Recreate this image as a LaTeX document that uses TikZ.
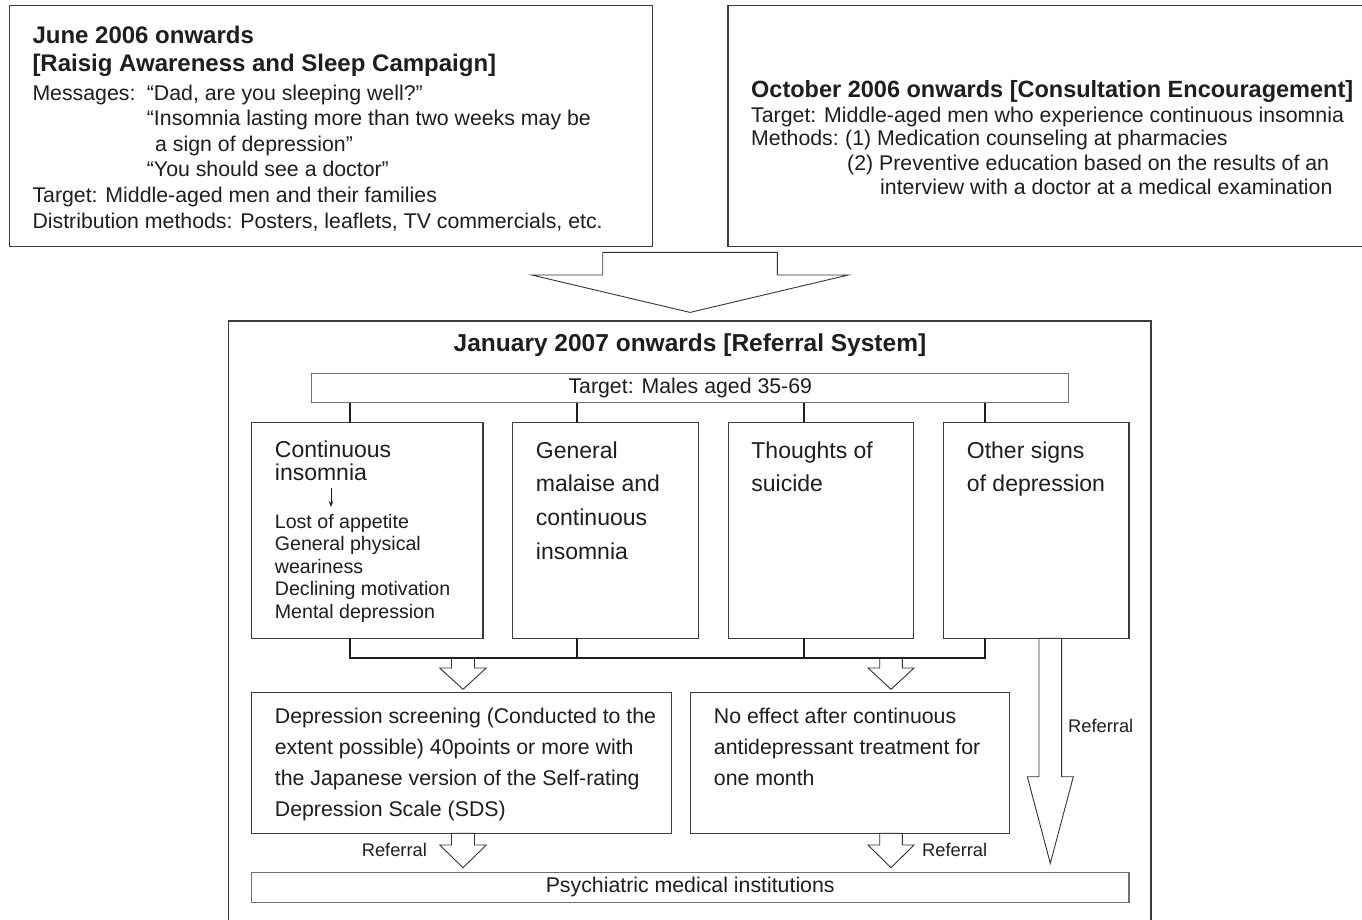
\documentclass[tikz,border=0pt]{standalone}
\usepackage{fontspec}
\setmainfont{Liberation Sans}
\usetikzlibrary{arrows.meta}
\definecolor{ink}{HTML}{1E1E1E}
\definecolor{edge}{HTML}{3C3C3C}
\definecolor{edgel}{HTML}{707070}
\newcommand\hollowarr[6]{% centre x, top, shoulder, tip, stem half width, head half width
  \draw[hollow] (#1-#5,#2) -- (#1+#5,#2) -- (#1+#5,#3) -- (#1+#6,#3) -- (#1,#4) -- (#1-#6,#3) -- (#1-#5,#3) -- cycle;}
\begin{document}
\begin{tikzpicture}[x=1pt,y=-1pt,
  box/.style={draw=edge, line width=1.2pt, inner sep=0pt, outer sep=0pt, anchor=north west},
  lbox/.style={draw=edgel, line width=1.2pt, inner sep=0pt, outer sep=0pt, anchor=north west},
  reg/.style={font=\fontsize{21.3}{25}\selectfont, text=ink, inner sep=0pt, anchor=base west},
  smt/.style={font=\fontsize{19.6}{22}\selectfont, text=ink, inner sep=0pt, anchor=base west},
  colt/.style={font=\fontsize{23}{26}\selectfont, text=ink, inner sep=0pt, anchor=base west},
  boldt/.style={font=\fontsize{24}{28}\selectfont\bfseries, text=ink, inner sep=0pt, anchor=base west},
  refl/.style={font=\fontsize{18.3}{21}\selectfont, text=ink, inner sep=0pt, anchor=base west},
  conn/.style={draw=black!88, line width=2pt},
  hollow/.style={draw=black!80, line width=0.9pt, fill=white, line join=miter}]
\useasboundingbox (0,0) rectangle (1362,919);
\fill[white] (0,0) rectangle (1362,919);
\clip (0,0) rectangle (1362,919);

% hollow arrows
\hollowarr{690}{252.3}{275}{312.4}{87.3}{158.3}
\hollowarr{463}{657.5}{668}{689.3}{11.5}{23.3}
\hollowarr{891}{657.5}{668}{689.3}{11.3}{23}
\hollowarr{463}{833.3}{845}{867.7}{11.5}{23.3}
\hollowarr{891}{833.3}{845}{867.7}{11.3}{23}
\hollowarr{1050.3}{638.3}{776.7}{863.3}{11.3}{23}

% top boxes
\node[box, minimum width=643.1pt, minimum height=241pt] (boxA) at (9.5,5.7) {};
\node[box, minimum width=660pt, minimum height=241pt] (boxB) at (728,5.7) {};

\node[boldt] (a1) at (32.3,43.3) {June 2006 onwards};
\node[boldt] (a2) at (32.3,71) {[Raisig Awareness and Sleep Campaign]};
\node[reg] (a3) at (32.3,100) {Messages:};
\node[reg] (a4) at (146.7,100) {“Dad, are you sleeping well?”};
\node[reg] (a5) at (146.7,125.6) {“Insomnia lasting more than two weeks may be};
\node[reg] (a6) at (155,151.2) {a sign of depression”};
\node[reg] (a7) at (146.7,176.8) {“You should see a doctor”};
\node[reg] (a8) at (32.3,202.4) {Target: Middle-aged men and their families};
\node[reg] (a9) at (32.3,228) {Distribution methods: Posters, leaflets, TV commercials, etc.};

\node[boldt, font=\fontsize{23.5}{28}\selectfont\bfseries] (b1) at (751,97) {October 2006 onwards [Consultation Encouragement]};
\node[reg] (b2) at (751,122) {Target: Middle-aged men who experience continuous insomnia};
\node[reg] (b3) at (751,145.5) {Methods:};
\node[reg] (b4) at (845,145.5) {(1) Medication counseling at pharmacies};
\node[reg] (b5) at (847,170) {(2) Preventive education based on the results of an};
\node[reg] (b6) at (880,194.5) {interview with a doctor at a medical examination};

% big box
\node[box, minimum width=922.6pt, minimum height=640pt] (big) at (228.4,321) {};
\node[boldt, anchor=base, font=\fontsize{24.5}{28}\selectfont\bfseries] (ttl) at (690,351.7) {January 2007 onwards [Referral System]};

\node[lbox, minimum width=757pt, minimum height=29.4pt, font=\fontsize{21.3}{25}\selectfont, text=ink] (target) at (311.8,373.3) {Target: Males aged 35-69};

\node[box, minimum width=231.5pt, minimum height=215.6pt] (c1) at (251.4,422.7) {};
\node[box, minimum width=185.6pt, minimum height=215.6pt] (c2) at (512.8,422.7) {};
\node[box, minimum width=185.4pt, minimum height=215.6pt] (c3) at (728.2,422.7) {};
\node[box, minimum width=185.6pt, minimum height=215.6pt] (c4) at (943.4,422.7) {};

\coordinate (k1) at (350.1,0);
\coordinate (k2) at (577,0);
\coordinate (k3) at (804.4,0);
\coordinate (k4) at (985.3,0);
\coordinate (hl) at (0,657.5);

\draw[conn] (target.south -| k1) -- (c1.north -| k1);
\draw[conn] (target.south -| k2) -- (c2.north -| k2);
\draw[conn] (target.south -| k3) -- (c3.north -| k3);
\draw[conn] (target.south -| k4) -- (c4.north -| k4);
\draw[conn, line join=miter] (c1.south -| k1) -- (hl -| k1) -- (hl -| k4) -- (c4.south -| k4);
\draw[conn] (c2.south -| k2) -- (hl -| k2);
\draw[conn] (c3.south -| k3) -- (hl -| k3);

% column texts
\node[colt] (t1a) at (274.7,457) {Continuous};
\node[colt] (t1b) at (274.7,480) {insomnia};
\coordinate (ar1) at (331,488);
\coordinate (ar2) at (331,507);
\draw[line width=1pt, ink, -{Stealth[length=6pt,width=4.5pt]}] (ar1) -- (ar2);
\node[smt] (t1c) at (274.7,528.3) {Lost of appetite};
\node[smt] (t1d) at (274.7,550.8) {General physical};
\node[smt] (t1e) at (274.7,573.3) {weariness};
\node[smt] (t1f) at (274.7,595.8) {Declining motivation};
\node[smt] (t1g) at (274.7,618.3) {Mental depression};

\node[colt] (t2a) at (535.7,458.3) {General};
\node[colt] (t2b) at (535.7,491.7) {malaise and};
\node[colt] (t2c) at (535.7,525.7) {continuous};
\node[colt] (t2d) at (535.7,559) {insomnia};

\node[colt] (t3a) at (751.2,458.3) {Thoughts of};
\node[colt] (t3b) at (751.2,491.7) {suicide};

\node[colt] (t4a) at (966.7,458.3) {Other signs};
\node[colt] (t4b) at (966.7,491.7) {of depression};

% second row
\node[box, minimum width=420.2pt, minimum height=140.6pt] (scr) at (251.4,692.7) {};
\node[box, minimum width=319pt, minimum height=140.8pt] (noeff) at (690.7,692.5) {};

\node[reg] (s1) at (274.7,723.3) {Depression screening (Conducted to the};
\node[reg] (s2) at (274.7,754.3) {extent possible) 40points or more with};
\node[reg] (s3) at (274.7,785.3) {the Japanese version of the Self-rating};
\node[reg] (s4) at (274.7,816.3) {Depression Scale (SDS)};

\node[reg] (n1) at (713.7,723.3) {No effect after continuous};
\node[reg] (n2) at (713.7,754.3) {antidepressant treatment for};
\node[reg] (n3) at (713.7,785.3) {one month};

\node[refl] (r1) at (361.6,856.7) {Referral};
\node[refl] (r2) at (921.9,856.7) {Referral};
\node[refl] (r3) at (1068,732) {Referral};

\node[lbox, minimum width=877.6pt, minimum height=30pt, font=\fontsize{21.3}{25}\selectfont, text=ink] (psych) at (251.4,872.3) {Psychiatric medical institutions};
\end{tikzpicture}
\end{document}
